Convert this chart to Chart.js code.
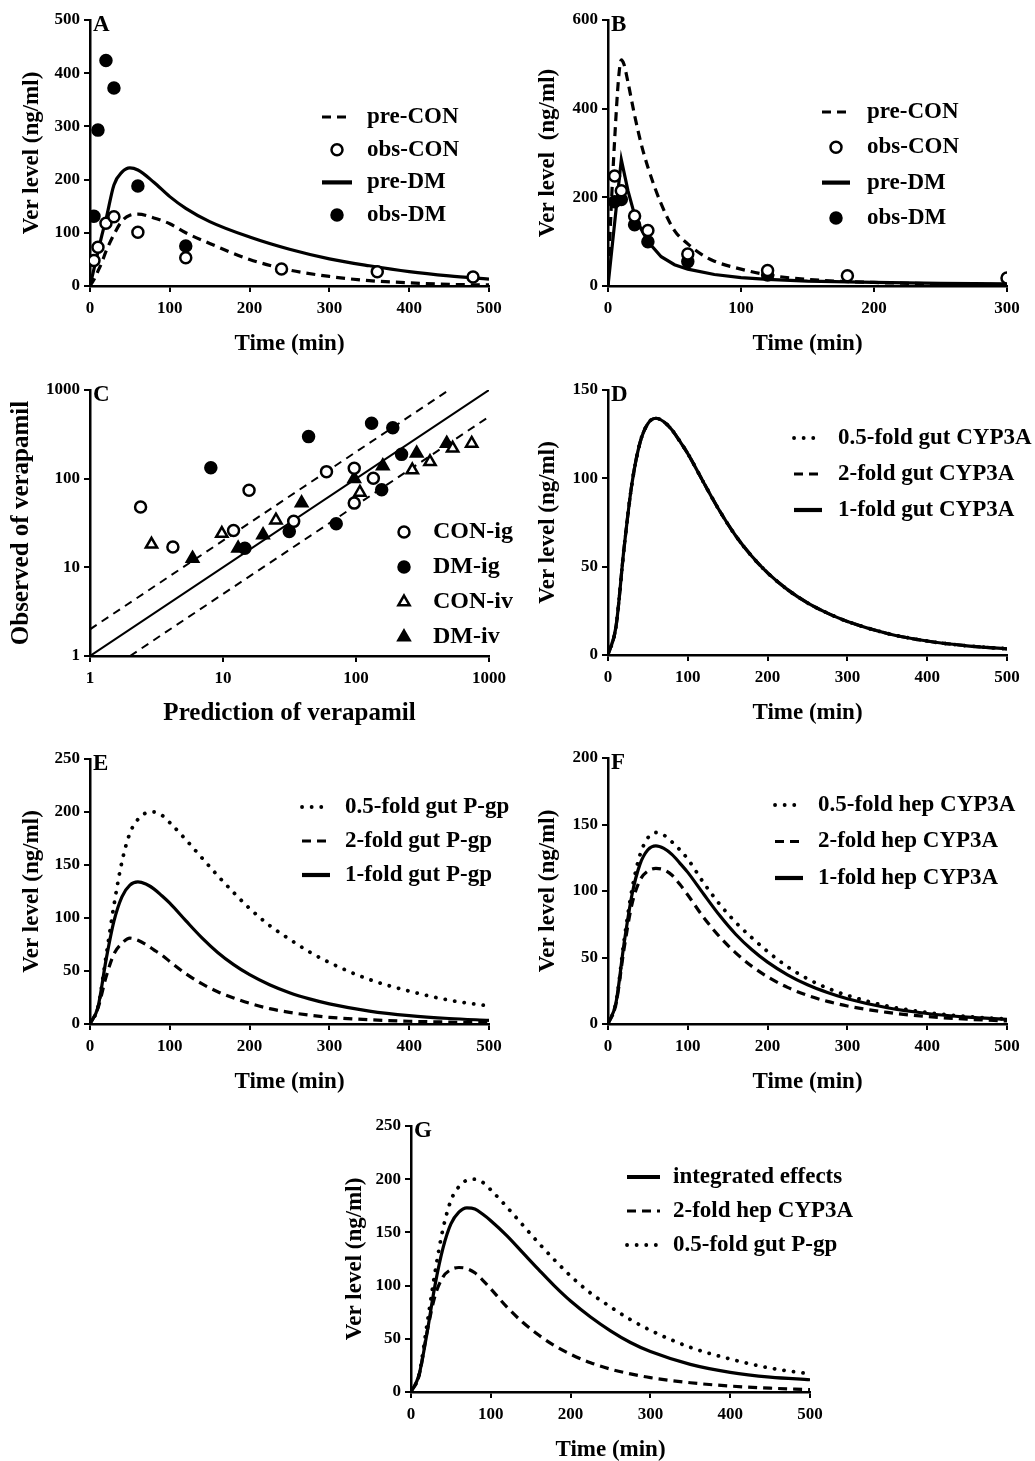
<!DOCTYPE html>
<html>
<head>
<meta charset="utf-8">
<script src="https://cdn.jsdelivr.net/npm/chart.js@4.4.1/dist/chart.umd.min.js"></script>
<style>
  html, body { margin: 0; padding: 0; background: #fff; }
  body { width: 1035px; height: 1461px; position: relative; overflow: hidden; }
  canvas { position: absolute; }
</style>
</head>
<body>
<script>
// ---- Panel A (ig) ----
const tA = [0, 5, 10, 15, 20, 30, 40, 50, 60, 80, 100, 120, 150, 200, 250, 300, 350, 400, 450, 500];
const preConA = [0, 12, 28, 45, 65, 97, 122, 133, 135, 128, 117, 100, 80, 50, 30, 18, 10, 6, 3, 2];
const preDmA = [0, 32, 64, 96, 125, 190, 214, 222, 218, 195, 168, 146, 121, 92, 69, 51, 38, 27, 19, 13];
const obsConAT = [5, 10, 20, 30, 60, 120, 240, 360, 480];
const obsConA = [48, 73, 118, 130, 101, 53, 32, 27, 17];
const obsDmAT = [5, 10, 20, 30, 60, 120];
const obsDmA = [131, 293, 424, 372, 188, 75];

// ---- Panel B (iv) ----
const tB = [0, 2, 5, 8, 10, 12, 15, 20, 25, 30, 40, 50, 60, 70, 80, 100, 120, 150, 200, 250, 300];
const preConB = [0, 150, 330, 470, 510, 500, 460, 385, 320, 268, 185, 125, 95, 72, 56, 38, 25, 15, 8, 5, 3];
const tB2 = [0, 10, 15, 20, 25, 30, 40, 50, 60, 80, 100, 120, 150, 200, 250, 300];
const preDmB = [0, 285, 215, 160, 128, 100, 66, 48, 38, 26, 19, 15, 11, 8, 6, 5];
const obsConBT = [5, 10, 20, 30, 60, 120, 180, 300];
const obsConB = [248, 215, 158, 125, 72, 35, 23, 18];
const obsDmBT = [5, 10, 20, 30, 60, 120];
const obsDmB = [190, 195, 138, 100, 55, 25];

// ---- Panel C (observed vs predicted) ----
const conIgPred = [2.4, 4.2, 12, 15.7, 34, 60, 97, 97, 135];
const conIgObs = [48, 17, 26, 74, 33, 120, 131, 53, 101];
const dmIgPred = [8.1, 44, 131, 189, 220, 156, 71, 31.5, 14.6];
const dmIgObs = [133, 298, 421, 376, 188, 75, 31, 25.3, 16.4];
const conIvPred = [2.9, 9.8, 25, 107, 265, 360, 533, 741];
const conIvObs = [18.2, 24, 34, 70, 125, 155, 220, 250];
const dmIvPred = [5.9, 13, 20, 39, 97, 159, 286, 481];
const dmIvObs = [12.6, 16.4, 23.2, 53, 100, 139, 193, 250];
const unityX = [1, 1000], unityY = [1, 1000];
const twoFoldUpX = [1, 500], twoFoldUpY = [2, 1000];
const twoFoldLowX = [2, 1000], twoFoldLowY = [1, 500];

// ---- Panels D-G (simulations) ----
const tSim = [0, 10, 20, 30, 40, 50, 60, 70, 80, 90, 100, 120, 140, 160, 180, 200, 225, 250, 275, 300, 350, 400, 450, 500];
const base1 = [0, 16, 60, 97, 120, 131, 134, 132, 127.5, 121, 114, 97.5, 81.5, 67.5, 56, 46.5, 37, 29.5, 23.7, 19, 12.2, 7.9, 5.2, 3.5];
const gutCyp05 = [0, 16, 60, 97, 120, 131, 134, 132, 127.5, 121, 114, 97.5, 81.5, 67.5, 56, 46.5, 37, 29.5, 23.7, 19, 12.2, 7.9, 5.2, 3.5];
const gutCyp2 = [0, 16, 60, 97, 120, 131, 134, 132, 127.5, 121, 114, 97.5, 81.5, 67.5, 56, 46.5, 37, 29.5, 23.7, 19, 12.2, 7.9, 5.2, 3.5];
const gutPgp05 = [0, 16, 63, 112, 153, 180, 193, 199, 200, 197, 190, 174, 157, 140, 124, 109, 93, 80, 68, 58, 42, 31, 22.5, 17];
const gutPgp2 = [0, 15, 44, 66, 76, 81, 79, 75, 70, 65, 59, 47.5, 38, 30.5, 24.5, 19.5, 14.5, 11, 8.3, 6.3, 4, 2.6, 1.8, 1.2];
const hepCyp05 = [0, 16, 62, 101, 127, 140, 144, 142, 137, 131, 124, 106, 90, 76.5, 65, 54.5, 43, 34, 27, 21.5, 13.5, 8.7, 5.6, 3.7];
const hepCyp2 = [0, 15, 56, 90, 108, 115, 117, 116, 112, 105, 97, 80, 65.5, 53.5, 43.5, 35.5, 27.5, 21.5, 17, 13.5, 8.7, 5.6, 3.6, 2.3];
const integrated = [0, 16, 55, 100, 135, 158, 169, 173, 172, 167, 161, 147, 131, 115, 99.5, 85.5, 70.5, 57.5, 46.5, 38, 26, 18.5, 14, 11.5];

// tick values
const ticks500 = [0, 100, 200, 300, 400, 500];
const ticks300 = [0, 100, 200, 300];
const ticks600 = [0, 200, 400, 600];
const ticks150 = [0, 50, 100, 150];
const ticks200 = [0, 50, 100, 150, 200];
const ticks250 = [0, 50, 100, 150, 200, 250];
const decades = [1, 10, 100, 1000];

const FONT = '"Liberation Serif", "Times New Roman", serif';
const AXIS_W = 90, AXIS_H = 70, PAD_T = 20;

function pts(xs, ys) {
    return xs.map((x, i) => ({ x: x, y: ys[i] }));
}

function curve(label, xs, ys, kind, extra) {
    const ds = {
        label: label,
        data: pts(xs, ys),
        showLine: true,
        pointRadius: 0,
        borderColor: '#000',
        borderWidth: 3.2,
        fill: false,
        cubicInterpolationMode: 'monotone',
        order: 2
    };
    if (kind === 'dash') ds.borderDash = [9, 6];
    if (kind === 'dot') { ds.borderDash = [0.1, 9.5]; ds.borderCapStyle = 'round'; ds.borderWidth = 3.8; }
    return Object.assign(ds, extra || {});
}

function marks(label, xs, ys, style, filled, extra) {
    return Object.assign({
        label: label,
        data: pts(xs, ys),
        showLine: false,
        pointStyle: style,
        pointRadius: style === 'triangle' ? 6.5 : 5.5,
        pointBackgroundColor: filled ? '#000' : '#fff',
        pointBorderColor: '#000',
        pointBorderWidth: 2.5,
        order: 0
    }, extra || {});
}

// legend + panel letter drawn on the canvas
const panelLegend = {
    id: 'panelLegend',
    afterDraw(chart, args, opts) {
        const { ctx, chartArea } = chart;
        ctx.save();
        ctx.fillStyle = '#000';
        ctx.textBaseline = 'middle';
        ctx.textAlign = 'left';
        ctx.font = 'bold 23px ' + FONT;
        ctx.fillText(opts.letter, chartArea.left + 3, chartArea.top + 5);

        ctx.font = 'bold ' + (opts.size || 23) + 'px ' + FONT;
        const x0 = chartArea.left + opts.x;
        let row = 0;
        chart.data.datasets.forEach(ds => {
            if (ds.inLegend === false) return;
            const y = chartArea.top + opts.y + row * opts.rowH;
            ctx.save();
            if (ds.showLine) {
                ctx.strokeStyle = '#000';
                ctx.lineWidth = ds.borderDash ? ds.borderWidth : ds.borderWidth + 1;
                ctx.lineCap = ds.borderCapStyle || 'butt';
                ctx.setLineDash(ds.borderDash || []);
                ctx.beginPath();
                ctx.moveTo(x0, y);
                ctx.lineTo(x0 + opts.w, y);
                ctx.stroke();
            } else {
                ctx.fillStyle = ds.pointBackgroundColor;
                ctx.strokeStyle = ds.pointBorderColor;
                ctx.lineWidth = ds.pointBorderWidth;
                Chart.helpers.drawPoint(ctx, {
                    pointStyle: ds.pointStyle, rotation: 0,
                    radius: ds.pointRadius, borderWidth: ds.pointBorderWidth
                }, x0 + opts.w / 2, y);
            }
            ctx.restore();
            ctx.fillText(ds.label, x0 + opts.w + opts.gap, y);
            row++;
        });
        ctx.restore();
    }
};

function axis(tickVals, horizontal, title, titleSize, titlePad, log) {
    return {
        type: log ? 'logarithmic' : 'linear',
        min: tickVals[0],
        max: tickVals[tickVals.length - 1],
        afterBuildTicks: s => { s.ticks = tickVals.map(v => ({ value: v })); },
        afterFit: s => { if (horizontal) s.height = AXIS_H; else s.width = AXIS_W; },
        border: { display: true, color: '#000', width: 2.5 },
        grid: { drawOnChartArea: false, drawTicks: true, tickLength: 6, color: '#000', lineWidth: 2 },
        ticks: {
            color: '#000',
            font: { family: FONT, size: 17, weight: 'bold' },
            padding: horizontal ? 6 : 4,
            maxRotation: 0,
            autoSkip: false,
            callback: v => String(v)
        },
        title: {
            display: true,
            text: title,
            color: '#000',
            font: { family: FONT, size: titleSize, weight: 'bold', lineHeight: 1 },
            padding: horizontal ? { top: 0, bottom: 0 } : { top: titlePad, bottom: 0 }
        }
    };
}

function makePanel(cfg) {
    const [l, t, r, b] = cfg.box;
    const padR = cfg.padR || 25;
    const W = r - l + AXIS_W + padR;
    const H = b - t + PAD_T + AXIS_H;
    const c = document.createElement('canvas');
    c.width = W; c.height = H;
    c.style.left = (l - AXIS_W) + 'px';
    c.style.top = (t - PAD_T) + 'px';
    c.style.width = W + 'px';
    c.style.height = H + 'px';
    document.body.appendChild(c);
    new Chart(c.getContext('2d'), {
        type: 'scatter',
        data: { datasets: cfg.datasets },
        options: {
            responsive: false,
            animation: false,
            events: [],
            layout: { padding: { top: PAD_T, right: padR, left: 0, bottom: 0 } },
            plugins: { legend: { display: false }, tooltip: { enabled: false }, panelLegend: cfg.legend },
            scales: {
                x: axis(cfg.xTicks, true, cfg.xTitle, cfg.titleSize || 23, 0, cfg.log),
                y: axis(cfg.yTicks, false, cfg.yTitle, cfg.titleSize || 23, cfg.yPad, cfg.log)
            }
        },
        plugins: [panelLegend]
    });
}

makePanel({
    box: [90, 20, 489, 286], xTicks: ticks500, yTicks: ticks500,
    xTitle: 'Time (min)', yTitle: 'Ver level (ng/ml)', yPad: 20.5,
    legend: { letter: 'A', x: 232, y: 97, rowH: 32.7, w: 30, gap: 15 },
    datasets: [
        curve('pre-CON', tA, preConA, 'dash'),
        marks('obs-CON', obsConAT, obsConA, 'circle', false),
        curve('pre-DM', tA, preDmA, 'solid'),
        marks('obs-DM', obsDmAT, obsDmA, 'circle', true, { order: 1 })
    ]
});

makePanel({
    box: [608, 20, 1007, 286], xTicks: ticks300, yTicks: ticks600,
    xTitle: 'Time (min)', yTitle: 'Ver level  (ng/ml)', yPad: 18.5,
    legend: { letter: 'B', x: 214, y: 92, rowH: 35.3, w: 28, gap: 17 },
    datasets: [
        curve('pre-CON', tB, preConB, 'dash'),
        marks('obs-CON', obsConBT, obsConB, 'circle', false),
        curve('pre-DM', tB2, preDmB, 'solid', { cubicInterpolationMode: 'default', tension: 0 }),
        marks('obs-DM', obsDmBT, obsDmB, 'circle', true, { order: 1 })
    ]
});

makePanel({
    box: [90, 390, 489, 656], xTicks: decades, yTicks: decades, log: true, titleSize: 25,
    xTitle: 'Prediction of verapamil', yTitle: 'Observed of verapamil', yPad: 9.5,
    legend: { letter: 'C', x: 300, y: 142, rowH: 35, w: 28, gap: 15, size: 24 },
    datasets: [
        marks('CON-ig', conIgPred, conIgObs, 'circle', false),
        marks('DM-ig', dmIgPred, dmIgObs, 'circle', true),
        marks('CON-iv', conIvPred, conIvObs, 'triangle', false),
        marks('DM-iv', dmIvPred, dmIvObs, 'triangle', true),
        curve('', unityX, unityY, 'solid', { borderWidth: 2, inLegend: false, cubicInterpolationMode: 'default' }),
        curve('', twoFoldUpX, twoFoldUpY, 'dash', { borderWidth: 2, borderDash: [8, 6], inLegend: false, cubicInterpolationMode: 'default' }),
        curve('', twoFoldLowX, twoFoldLowY, 'dash', { borderWidth: 2, borderDash: [8, 6], inLegend: false, cubicInterpolationMode: 'default' })
    ]
});

makePanel({
    box: [608, 390, 1007, 655], xTicks: ticks500, yTicks: ticks150,
    xTitle: 'Time (min)', yTitle: 'Ver level (ng/ml)', yPad: 18.5,
    legend: { letter: 'D', x: 186, y: 48, rowH: 36, w: 28, gap: 16 },
    datasets: [
        curve('0.5-fold gut CYP3A', tSim, gutCyp05, 'dot'),
        curve('2-fold gut CYP3A', tSim, gutCyp2, 'dash'),
        curve('1-fold gut CYP3A', tSim, base1, 'solid', { order: 1 })
    ]
});

makePanel({
    box: [90, 759, 489, 1024], xTicks: ticks500, yTicks: ticks250,
    xTitle: 'Time (min)', yTitle: 'Ver level (ng/ml)', yPad: 20.5,
    legend: { letter: 'E', x: 212, y: 48, rowH: 34, w: 28, gap: 15 },
    datasets: [
        curve('0.5-fold gut P-gp', tSim, gutPgp05, 'dot'),
        curve('2-fold gut P-gp', tSim, gutPgp2, 'dash'),
        curve('1-fold gut P-gp', tSim, base1, 'solid')
    ]
});

makePanel({
    box: [608, 758, 1007, 1024], xTicks: ticks500, yTicks: ticks200,
    xTitle: 'Time (min)', yTitle: 'Ver level (ng/ml)', yPad: 18.5,
    legend: { letter: 'F', x: 167, y: 47, rowH: 36.5, w: 28, gap: 15 },
    datasets: [
        curve('0.5-fold hep CYP3A', tSim, hepCyp05, 'dot'),
        curve('2-fold hep CYP3A', tSim, hepCyp2, 'dash'),
        curve('1-fold hep CYP3A', tSim, base1, 'solid')
    ]
});

makePanel({
    box: [411, 1126, 810, 1392], xTicks: ticks500, yTicks: ticks250, padR: 110,
    xTitle: 'Time (min)', yTitle: 'Ver level (ng/ml)', yPad: 22.5,
    legend: { letter: 'G', x: 216, y: 51, rowH: 34, w: 33, gap: 13 },
    datasets: [
        curve('integrated effects', tSim, integrated, 'solid'),
        curve('2-fold hep CYP3A', tSim, hepCyp2, 'dash'),
        curve('0.5-fold gut P-gp', tSim, gutPgp05, 'dot')
    ]
});
</script>
</body>
</html>
